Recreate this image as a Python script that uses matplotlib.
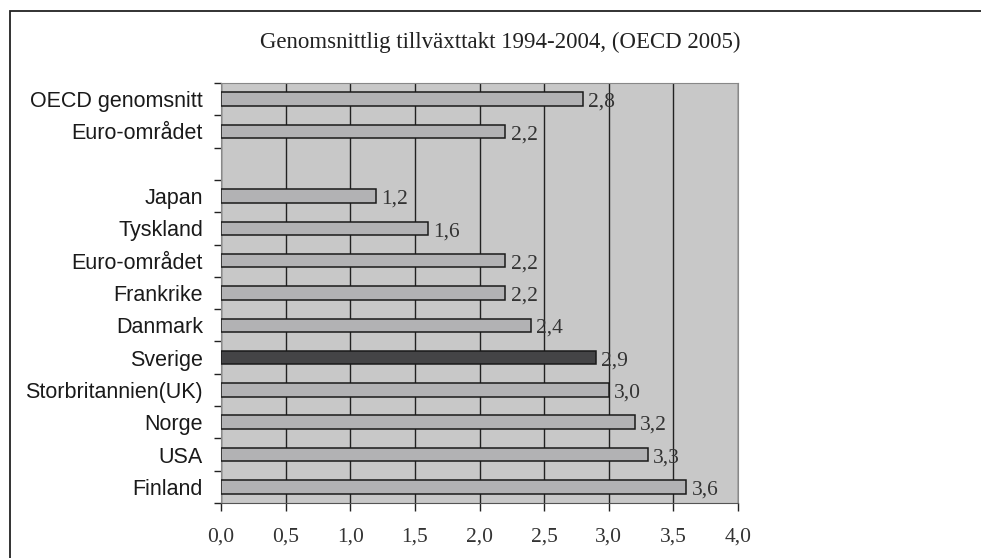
import numpy as np
import matplotlib.pyplot as plt
from matplotlib.patches import Rectangle

# ----------------------- Data -----------------------
categories = ["OECD genomsnitt", "Euro-området", "", "Japan", "Tyskland",
              "Euro-området", "Frankrike", "Danmark", "Sverige",
              "Storbritannien(UK)", "Norge", "USA", "Finland"]
values = [2.8, 2.2, np.nan, 1.2, 1.6, 2.2, 2.2, 2.4, 2.9, 3.0, 3.2, 3.3, 3.6]
highlight = "Sverige"
x_ticks = [0.0, 0.5, 1.0, 1.5, 2.0, 2.5, 3.0, 3.5, 4.0]
title = "Genomsnittlig tillväxttakt 1994-2004, (OECD 2005)"

serif = ["Liberation Serif", "DejaVu Serif"]
sans = ["Liberation Sans", "DejaVu Sans"]

# ----------------------- Plot -----------------------
fig = plt.figure(figsize=(9.81, 5.58), dpi=100)
ax = fig.add_axes([221 / 981, 1 - 503 / 558, (738 - 221) / 981, (503 - 83) / 558])
ax.set_facecolor("#c8c8c8")

pos = np.arange(len(categories))
colors = ["#444446" if c == highlight else "#b2b2b4" for c in categories]
ax.barh(pos, values, height=0.42, color=colors, edgecolor="#1a1a1a",
        linewidth=1.1, zorder=3)

for p, v in zip(pos, values):
    if np.isnan(v):
        continue
    ax.text(v + 0.04, p + 0.1, f"{v:.1f}".replace(".", ","), fontsize=15.5,
            family=serif, color="#333333", va="center", ha="left", zorder=4)

ax.set_xlim(0, 4)
ax.set_ylim(len(categories) - 0.5, -0.5)
ax.set_xticks(x_ticks)
ax.set_xticklabels([f"{t:.1f}".replace(".", ",") for t in x_ticks],
                   fontsize=15.5, family=serif, color="#333333")
ax.tick_params(axis="x", direction="out", length=6, width=1, color="#222222", pad=12)

ax.set_yticks(pos)
ax.set_yticklabels(categories, fontsize=15.5, family=sans, color="#1a1a1a")
ax.tick_params(axis="y", which="major", length=0, pad=13)
ax.set_yticks(np.arange(-0.5, len(categories), 1), minor=True)
ax.tick_params(axis="y", which="minor", direction="out", length=5, width=1,
               color="#222222")

ax.grid(axis="x", color="#222222", linewidth=1, zorder=1)
ax.set_axisbelow(True)
for side in ["top", "right", "left"]:
    ax.spines[side].set_color("#888888")
ax.spines["bottom"].set_color("#555555")

fig.text(500 / 981, 1 - 42 / 558, title, ha="center", va="center",
         fontsize=16.5, family=serif, color="#222222")

# outer frame, cut off at the right and bottom edges
fig.patches.append(Rectangle((10 / 981, -0.1), 1.2, 1.1 - 11 / 558, fill=False,
                             edgecolor="#222222", linewidth=1.3,
                             transform=fig.transFigure))

fig.savefig("out.png", dpi=100)
